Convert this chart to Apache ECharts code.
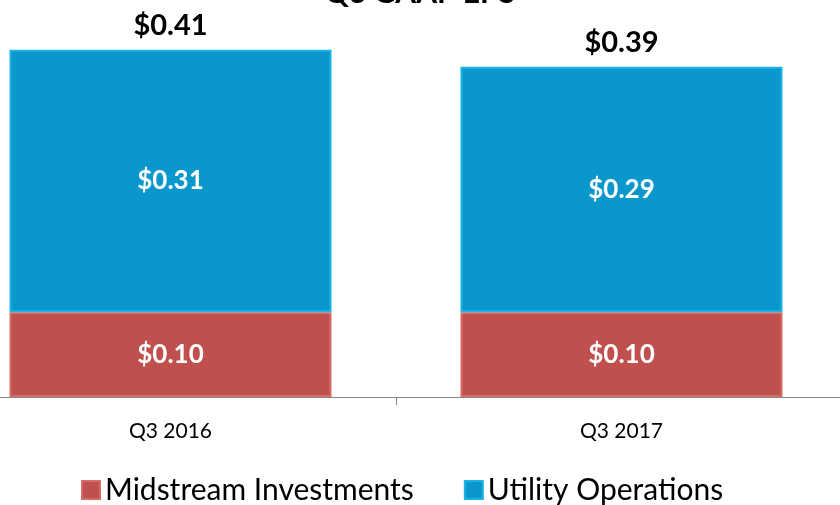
<!DOCTYPE html>
<html>
<head>
<meta charset="utf-8">
<script src="https://cdn.jsdelivr.net/npm/echarts@6/dist/echarts.min.js"></script>
<style>
  html, body { margin: 0; padding: 0; background: #fff; }
  #chart { width: 840px; height: 505px; }
</style>
</head>
<body>
<div id="chart"></div>
<script>
const categories = ['Q3 2016', 'Q3 2017']
const midstream = [0.10, 0.10]
const utility = [0.31, 0.29]
const totals = [0.41, 0.39]

const chart = echarts.init(document.getElementById('chart'))
const font = 'Lato, "Open Sans", sans-serif'
const money = v => '$' + v.toFixed(2)

chart.setOption({
  animation: false,
  title: {
    text: 'Q3 GAAP EPS',
    left: 'center',
    top: -27,
    textStyle: { fontFamily: font, fontSize: 30, fontWeight: 'bold', color: '#000' }
  },
  grid: { left: -55, right: -7, top: 16, bottom: 108, outerBoundsMode: 'none', containLabel: false },
  legend: {
    data: ['Midstream Investments', 'Utility Operations'],
    bottom: -5,
    left: 76,
    itemWidth: 18,
    itemHeight: 18,
    itemGap: 50,
    icon: 'rect',
    textStyle: { fontFamily: font, fontSize: 30, color: '#000' }
  },
  xAxis: {
    type: 'category',
    data: categories,
    axisLine: { lineStyle: { color: '#888', width: 1 } },
    axisTick: { show: true, length: 8, lineStyle: { color: '#888' } },
    axisLabel: { fontFamily: font, fontSize: 21, color: '#000', margin: 24 }
  },
  yAxis: {
    type: 'value',
    min: 0,
    max: 0.45,
    show: false,
    splitLine: { show: false }
  },
  series: [
    {
      name: 'Midstream Investments',
      type: 'bar',
      stack: 'eps',
      barWidth: '71.4%',
      data: midstream,
      itemStyle: { color: '#C0504D', borderColor: '#D96B67', borderWidth: 2 },
      label: {
        show: true, position: 'inside', formatter: p => money(p.value),
        fontFamily: font, fontSize: 26, fontWeight: 'bold', color: '#fff'
      }
    },
    {
      name: 'Utility Operations',
      type: 'bar',
      stack: 'eps',
      data: utility,
      itemStyle: { color: '#0A98CC', borderColor: '#1BB3E6', borderWidth: 2 },
      label: {
        show: true, position: 'inside', formatter: p => money(p.value),
        fontFamily: font, fontSize: 26, fontWeight: 'bold', color: '#fff'
      }
    },
    {
      name: 'Total',
      type: 'bar',
      stack: 'eps',
      data: [0, 0],
      itemStyle: { color: 'transparent' },
      label: {
        show: true, position: 'top', distance: 10,
        formatter: p => money(totals[p.dataIndex]),
        fontFamily: font, fontSize: 29, fontWeight: 'bold', color: '#000'
      }
    }
  ]
})
</script>
</body>
</html>
